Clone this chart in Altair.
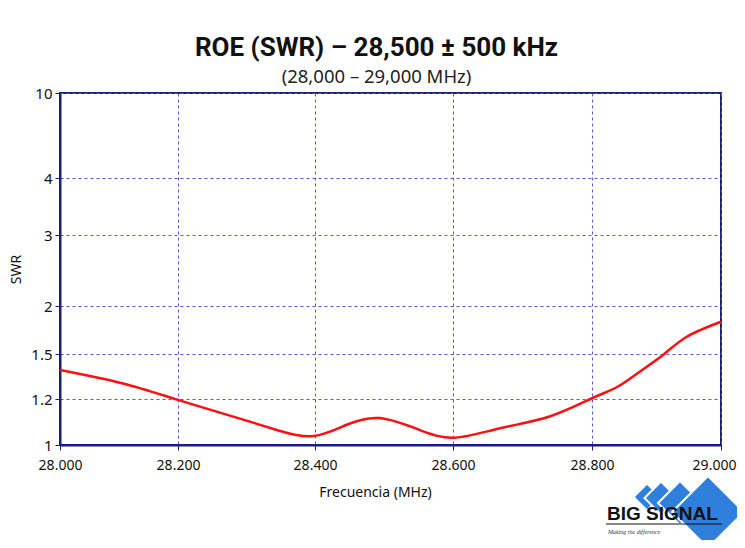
import altair as alt
import pandas as pd

# Data
freq_mhz = [28.0, 28.105, 28.2, 28.288, 28.349, 28.398, 28.446, 28.494,
            28.552, 28.603, 28.668, 28.74, 28.8, 28.839, 28.874, 28.91,
            28.947, 29.0]
swr = [1.393, 1.305, 1.196, 1.117, 1.061, 1.039, 1.088, 1.117,
       1.065, 1.032, 1.073, 1.125, 1.205, 1.28, 1.382, 1.493,
       1.68, 1.836]

x_ticks = [28.0, 28.2, 28.4, 28.6, 28.8, 29.0]
y_ticks = [1, 1.2, 1.5, 2, 3, 4, 10]

df = pd.DataFrame({"f": freq_mhz, "swr": swr})

W, H = 661, 352
NAVY = "#1c1c7a"
GRID = "#5a5ad0"
LABEL_FONT = "Noto Sans"

x_scale = alt.Scale(domain=x_ticks, range=[0, 118, 255, 393, 532, 661], nice=False)
y_scale = alt.Scale(domain=y_ticks, range=[352, 306, 261, 213, 142, 85, 0], nice=False)

line = alt.Chart(df).mark_line(color="#ff1010", strokeWidth=2.5, interpolate="natural").encode(
    x=alt.X("f:Q", scale=x_scale,
            axis=alt.Axis(values=x_ticks, format=".3f", title="Frecuencia (MHz)",
                          grid=True, gridColor=GRID, gridDash=[3, 3], gridWidth=1,
                          domainColor=NAVY, domainWidth=2, tickColor=NAVY, tickSize=5,
                          labelFlush=False,
                          labelOffset={"condition": {"test": "datum.value >= 29", "value": -7},
                                       "value": 0},
                          labelFont=LABEL_FONT, labelFontSize=14, labelColor="#111",
                          labelPadding=8, titleFont=LABEL_FONT, titleFontSize=14,
                          titleFontWeight="normal", titleColor="#111",
                          titleX=315, titlePadding=13)),
    y=alt.Y("swr:Q", scale=y_scale,
            axis=alt.Axis(values=y_ticks, format=".2~f", title="SWR",
                          grid=True, gridColor=GRID, gridDash=[3, 3], gridWidth=1,
                          domainColor=NAVY, domainWidth=2, tickColor=NAVY, tickSize=5,
                          labelFlush=False,
                          labelFont=LABEL_FONT, labelFontSize=15, labelColor="#111",
                          labelPadding=3, titleFont=LABEL_FONT, titleFontSize=14,
                          titleFontWeight="normal", titleColor="#111",
                          titlePadding=7)),
)

# Decorative logo (not data)
logo_d = pd.DataFrame({"k": [0]})
diamonds = [
    (587, 404, 27 * 27), (601, 405, 33 * 33), (620, 410, 44 * 44), (648, 419, 72 * 72)
]
logo_layers = []
for (lx, ly, sz) in diamonds:
    logo_layers.append(
        alt.Chart(logo_d).mark_point(shape="diamond", filled=True, fill="#2f7fdc",
                                     stroke="white", strokeWidth=2, opacity=1,
                                     size=sz).encode(x=alt.value(lx), y=alt.value(ly))
    )
logo_text = alt.Chart(logo_d).mark_text(text="BIG SIGNAL", font="Liberation Sans",
                                        fontWeight="bold", fontSize=19, align="left",
                                        baseline="alphabetic", color="#111").encode(
    x=alt.value(547), y=alt.value(427))
logo_rule = alt.Chart(logo_d).mark_rule(color="#111", strokeWidth=1).encode(
    x=alt.value(546), x2=alt.value(662), y=alt.value(431))
logo_tag = alt.Chart(logo_d).mark_text(text="Making the difference", font="Liberation Serif",
                                       fontStyle="italic", fontSize=6, align="left",
                                       color="#333").encode(
    x=alt.value(548), y=alt.value(439))

chart = alt.layer(line, *logo_layers, logo_rule, logo_text, logo_tag).properties(
    width=W, height=H,
    autosize=alt.AutoSizeParams(type="none"),
    padding={"left": 52, "top": 85, "right": 16, "bottom": 95},
    title=alt.TitleParams(
        text="ROE (SWR) – 28,500 ± 500 kHz",
        subtitle="(28,000 – 29,000 MHz)",
        font="Roboto", fontSize=26, fontWeight="bold", color="#111",
        subtitleFont=LABEL_FONT, subtitleFontSize=18.5, subtitleColor="#222",
        subtitlePadding=7, anchor="middle", dx=-14, offset=0,
    ),
).configure_view(stroke=NAVY, strokeWidth=2)

chart.save("out.html", embed_options={"renderer": "svg", "actions": False})
